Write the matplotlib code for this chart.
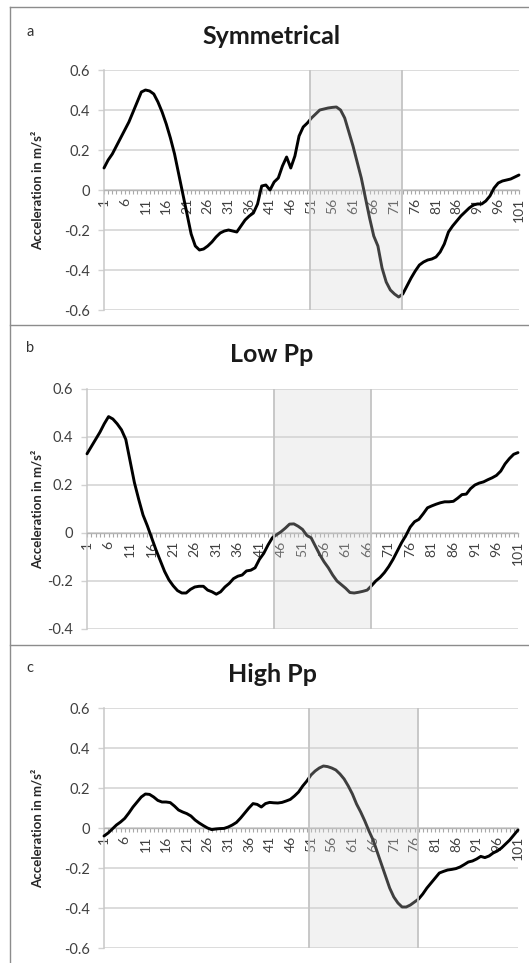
# Acceleration profiles: symmetrical, low Pp and high Pp (three stacked panels)
import numpy as np
import matplotlib
matplotlib.use('Agg')
import matplotlib.pyplot as plt
from matplotlib.lines import Line2D
from matplotlib.ticker import FuncFormatter, MultipleLocator

plt.rcParams['font.family'] = ['Lato', 'DejaVu Sans']
plt.rcParams['axes.unicode_minus'] = False

# data (frame 1..101)
frames = np.arange(1, 102)

symmetrical = [
    0.11, 0.15, 0.18, 0.22, 0.26, 0.30, 0.34, 0.39, 0.44, 0.49,
    0.50, 0.495, 0.48, 0.44, 0.39, 0.33, 0.26, 0.18, 0.08, -0.02,
    -0.12, -0.22, -0.28, -0.30, -0.295, -0.28, -0.26, -0.235, -0.215, -0.205,
    -0.20, -0.205, -0.21, -0.18, -0.15, -0.13, -0.115, -0.07, 0.02, 0.025,
    0.00, 0.04, 0.06, 0.12, 0.165, 0.11, 0.17, 0.27, 0.315, 0.335,
    0.36, 0.38, 0.40, 0.405, 0.41, 0.413, 0.415, 0.40, 0.36, 0.29,
    0.22, 0.14, 0.06, -0.04, -0.14, -0.23, -0.28, -0.39, -0.46, -0.50,
    -0.52, -0.535, -0.52, -0.48, -0.44, -0.405, -0.375, -0.36, -0.35, -0.345,
    -0.335, -0.31, -0.27, -0.21, -0.18, -0.155, -0.13, -0.11, -0.09, -0.075,
    -0.07, -0.07, -0.055, -0.03, 0.01, 0.035, 0.045, 0.05, 0.055, 0.065,
    0.075,
]

low_pp = [
    0.33, 0.36, 0.39, 0.42, 0.455, 0.485, 0.475, 0.455, 0.43, 0.39,
    0.30, 0.21, 0.14, 0.075, 0.03, -0.02, -0.07, -0.115, -0.16, -0.195,
    -0.22, -0.24, -0.25, -0.25, -0.235, -0.225, -0.222, -0.222, -0.238, -0.245,
    -0.255, -0.245, -0.225, -0.21, -0.19, -0.18, -0.175, -0.158, -0.155, -0.145,
    -0.11, -0.085, -0.05, -0.02, -0.007, 0.005, 0.02, 0.037, 0.038, 0.028,
    0.015, -0.01, -0.02, -0.055, -0.09, -0.12, -0.145, -0.175, -0.20, -0.215,
    -0.23, -0.248, -0.25, -0.247, -0.243, -0.238, -0.22, -0.20, -0.185, -0.165,
    -0.14, -0.11, -0.075, -0.04, -0.01, 0.025, 0.047, 0.057, 0.08, 0.105,
    0.113, 0.12, 0.126, 0.13, 0.13, 0.132, 0.145, 0.16, 0.162, 0.185,
    0.20, 0.208, 0.213, 0.222, 0.23, 0.24, 0.258, 0.288, 0.31, 0.328,
    0.335,
]

high_pp = [
    -0.04, -0.025, -0.005, 0.015, 0.03, 0.048, 0.075, 0.105, 0.13, 0.155,
    0.17, 0.168, 0.155, 0.138, 0.13, 0.13, 0.127, 0.11, 0.09, 0.08,
    0.072, 0.06, 0.04, 0.025, 0.012, 0.0, -0.008, -0.005, -0.003, -0.002,
    0.005, 0.015, 0.028, 0.05, 0.075, 0.10, 0.122, 0.118, 0.105, 0.122,
    0.128, 0.126, 0.125, 0.128, 0.135, 0.143, 0.16, 0.18, 0.21, 0.235,
    0.265, 0.285, 0.30, 0.31, 0.307, 0.30, 0.29, 0.27, 0.245, 0.21,
    0.17, 0.12, 0.08, 0.035, -0.015, -0.06, -0.12, -0.18, -0.24, -0.30,
    -0.345, -0.375, -0.395, -0.395, -0.385, -0.37, -0.355, -0.33, -0.30, -0.275,
    -0.25, -0.225, -0.217, -0.21, -0.207, -0.203, -0.195, -0.183, -0.17, -0.165,
    -0.155, -0.142, -0.148, -0.14, -0.125, -0.115, -0.10, -0.08, -0.06, -0.035,
    -0.01,
]

# shaded frame ranges
shade_sym = (50.6, 72.7)
shade_low = (44.5, 66.9)
shade_high = (50.5, 76.8)

W, H = 529, 963
fig = plt.figure(figsize=(W / 100, H / 100), dpi=100)

panels = [
    # letter, title, values, y range, shade, axes box in px (l, t, r, b), title y, letter y
    ('a', 'Symmetrical', symmetrical, (-0.6, 0.6), shade_sym, (104, 70, 519, 310), 36, 32),
    ('b', 'Low Pp', low_pp, (-0.4, 0.6), shade_low, (87, 389, 518, 629), 355, 348),
    ('c', 'High Pp', high_pp, (-0.6, 0.6), shade_high, (104, 708, 518, 948), 675, 668),
]

def yfmt(v, pos):
    return '0' if abs(v) < 1e-9 else '%.1f' % v

for letter, title, vals, ylim, shade, box, ty, ly in panels:
    l, t, r, b = box
    ax = fig.add_axes([l / W, 1 - b / H, (r - l) / W, (b - t) / H])
    ax.plot(frames, vals, color='black', lw=2.1, zorder=3, clip_on=False,
            solid_joinstyle='round', solid_capstyle='round')
    # semi-transparent band drawn over the line
    ax.axvspan(shade[0], shade[1], facecolor='#d4d4d4', alpha=0.3, edgecolor='none', zorder=4)
    for xs in shade:
        ax.axvline(xs, color='#c4c4c4', lw=1.3, zorder=4)

    ax.set_xlim(1, 101)
    ax.set_ylim(*ylim)
    ax.set_yticks(np.arange(ylim[0], ylim[1] + 0.01, 0.2))
    ax.yaxis.set_major_formatter(FuncFormatter(yfmt))
    ax.grid(axis='y', color='#d2d2d2', lw=1.1, zorder=0)
    ax.set_axisbelow(True)

    ax.set_xticks(frames[::5])
    ax.set_xticklabels([str(f) for f in frames[::5]])
    ax.xaxis.set_minor_locator(MultipleLocator(1))

    for s in ('top', 'right'):
        ax.spines[s].set_visible(False)
    ax.spines['left'].set_color('#c8c8c8')
    ax.spines['left'].set_linewidth(1.1)
    ax.spines['bottom'].set_position(('data', 0))
    ax.spines['bottom'].set_color('#b4b4b4')
    ax.spines['bottom'].set_linewidth(1.0)

    ax.tick_params(axis='x', which='both', direction='out', length=3, width=0.8,
                   color='#a8a8a8', labelsize=10, labelcolor='#404040',
                   labelrotation=90, pad=2.5)
    ax.tick_params(axis='y', length=4, width=1, color='#d2d2d2', labelsize=10.5,
                   labelcolor='#404040', pad=6)

    fig.text(272 / W, 1 - ty / H, title, ha='center', va='center',
             fontsize=18, fontweight='bold', color='#1a1a1a')
    fig.text(30 / W, 1 - ly / H, letter, ha='center', va='center',
             fontsize=10.5, color='#333333')
    fig.text(38 / W, 1 - (t + b) / 2 / H, 'Acceleration in m/s²', rotation=90,
             ha='center', va='center', fontsize=9.5, fontweight='bold', color='#262626')

# panel frame lines
border = '#8c8c8c'
fig.add_artist(Line2D([10 / W, 10 / W], [0, 1 - 7 / H], color=border, lw=1.0))
for yy in (7, 325, 645):
    fig.add_artist(Line2D([10 / W, 1], [1 - yy / H, 1 - yy / H], color=border, lw=1.0))

fig.savefig('out.png', dpi=100)
